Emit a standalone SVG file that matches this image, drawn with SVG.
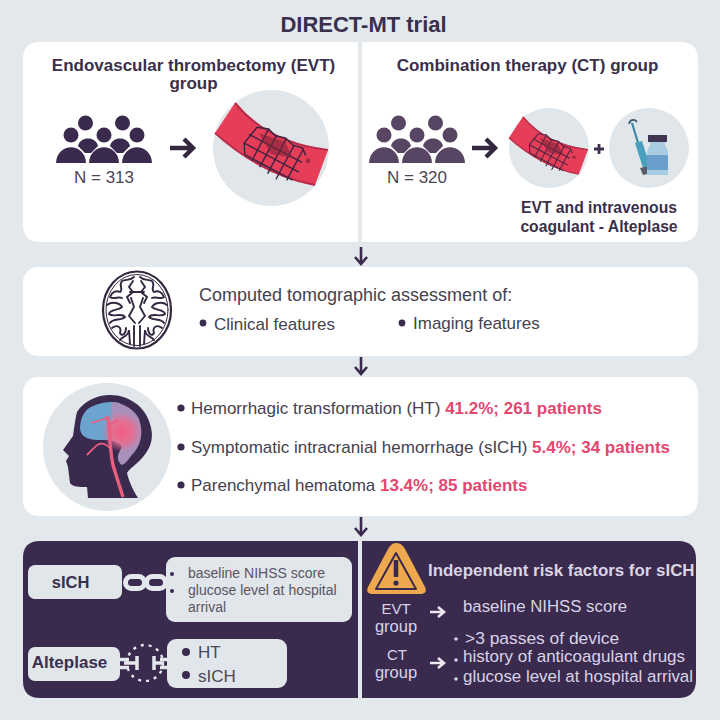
<svg xmlns="http://www.w3.org/2000/svg" width="720" height="720" viewBox="0 0 720 720">
<style>
text{font-family:"Liberation Sans",Arial,sans-serif}
.w{fill:#fff}.d{fill:#3a2a4e}.g{fill:#e0e6ea}
.t{font-weight:700;fill:#3a2f4c}
.b{fill:#46414f;font-size:17px}
.r{fill:#e2476f;font-weight:700}
.l{fill:#d9d4e6}
.s{fill:#5a5465;font-size:14px}
.a{fill:none;stroke:#3a2a4e;stroke-width:2.6}
.arr{fill:none;stroke:#33283f;stroke-width:4.4}
.arl{fill:none;stroke:#ece8f0;stroke-width:2.6}
</style>
<defs>
<g id="people">
<circle cx="-18.5" cy="-18" r="7.5"/><circle cx="18.5" cy="-18" r="7.5"/>
<circle cx="-33" cy="-6" r="7.5"/><circle cx="0" cy="-6" r="7.5"/><circle cx="33" cy="-6" r="7.5"/>
<path d="M-26 5C-24-5-8-5-6 5L-13 12H-19Z"/><path d="M6 5C8-5 24-5 26 5L19 12H13Z"/>
<path d="M-48 22C-47 1-19 1-18 22Z"/><path d="M-15 22C-14 1 14 1 15 22Z"/><path d="M18 22C19 1 47 1 48 22Z"/>
</g>
<g id="vessel">
<path d="M-38-49C-14-20 20-6 55-2L42 33C4 26-30 6-58-19Z" fill="#e63d58"/>
<path d="M-38-49C-14-20 20-6 55-2" fill="none" stroke="#b92c48" stroke-width="2"/>
<path d="M-58-19C-30 6 4 26 42 33" fill="none" stroke="#b92c48" stroke-width="2"/>
<g transform="translate(1 -1) rotate(28)" fill="none" stroke="#3d2440" stroke-width="1.400">
<path d="M-26-13L-15-17L-6-14L4-17L14-14L24-16L30-11M-30-3L30-3M-30 7L32 7M-24 17L30 17"/>
<path d="M-26-13L-30 7L-24 17M-15-17L-15 19M-5-15L-5 21M5-17L5 23M15-15L15 24M25-15L25 20"/>
</g>
<path d="M-14-19L12-10L20 6L-2 2Z" fill="#7d2438" opacity=".6"/>
<circle cx="35" cy="9" r="2.400" fill="#a32a40"/>
</g>
<radialGradient id="bleed"><stop offset="0" stop-color="#f05a80"/><stop offset=".55" stop-color="#ee6c8c" stop-opacity=".85"/><stop offset="1" stop-color="#ee6c8c" stop-opacity="0"/></radialGradient>
</defs>
<rect width="720" height="720" fill="#e2e8eb"/>
<text x="363.500" y="32" text-anchor="middle" font-size="22" class="t">DIRECT-MT trial</text>

<g id="evt-panel">
<path class="w" d="M40 42H358V242H40Q23 242 23 225V59Q23 42 40 42Z"/>
<text x="193.500" y="71" text-anchor="middle" font-size="17" class="t">Endovascular thrombectomy (EVT)</text>
<text x="193.500" y="89" text-anchor="middle" font-size="17" class="t">group</text>
<use href="#people" x="104" y="141" class="d"/>
<text x="104" y="183" text-anchor="middle" font-size="17" fill="#4c4656">N = 313</text>
<path d="M170 148H193M184 139L193 148L184 157" class="arr"/>
<circle cx="271" cy="148" r="58" class="g"/>
<use href="#vessel" x="273" y="152"/>
</g>

<g id="ct-panel">
<path class="w" d="M362 42H680Q698 42 698 60V224Q698 242 680 242H362Z"/>
<text x="527.500" y="71" text-anchor="middle" font-size="17" class="t">Combination therapy (CT) group</text>
<use href="#people" x="417" y="141" fill="#574563"/>
<text x="417" y="183" text-anchor="middle" font-size="17" fill="#4c4656">N = 320</text>
<path d="M472 148H495M486 139L495 148L486 157" class="arr"/>
<circle cx="549" cy="148" r="40" class="g"/>
<use href="#vessel" transform="translate(549.500 151) scale(.7)"/>
<path d="M594 149H604M599 144V154" stroke="#3f3050" stroke-width="2.800"/>
<circle cx="649" cy="148" r="40" class="g"/>
<g id="syringe">
<path d="M632 123L639 146" stroke="#3f88a4" stroke-width="2.200" fill="none"/>
<path d="M629 124C630 119 635 119 637 122" stroke="#3f5f78" stroke-width="1.800" fill="none"/>
<path d="M635 143L642 141L650 166L643 168Z" fill="#4aa0bc"/>
<path d="M640 168L654 165L656 172L643 175Z" fill="#5a5a68"/>
</g>
<g id="vial">
<rect x="648" y="135" width="19" height="7" fill="#3f3550"/>
<path d="M650 142H665V146C667 148 668 150 668 153V175H647V153C647 150 648 148 650 146Z" fill="#a9cde0"/>
<rect x="647" y="155" width="21" height="15" fill="#6a9fcb"/>
</g>
<text x="599" y="213" text-anchor="middle" font-size="15.700" class="t">EVT and intravenous</text>
<text x="599" y="232" text-anchor="middle" font-size="15.700" class="t">coagulant - Alteplase</text>
</g>

<g id="ct-assessment">
<rect x="23" y="267" width="675" height="89" rx="15" class="w"/>
<g id="brain-scan" fill="none" stroke="#33283f" stroke-width="1.900" stroke-linecap="round">
<ellipse cx="137" cy="310" rx="34" ry="38.500" stroke-width="2.200"/>
<ellipse cx="137" cy="310" rx="31" ry="35.500" stroke-width="1"/>
<path d="M134 277C130 281 126 279 122 281C118 286 124 288 120 292C116 290 112 292 110 297C114 300 118 296 122 298M140 277C144 281 148 279 152 281C156 286 150 288 154 292C158 290 162 292 164 297C160 300 156 296 152 298"/>
<path d="M133 281L129 287L133 292L127 297L130 303M141 281L145 287L141 292L147 297L144 303"/>
<path d="M130 292H144M131 298L134 307L129 316L135 323M143 298L140 307L145 316L139 323"/>
<path d="M107 305C112 301 120 303 122 307C118 311 110 309 109 314C113 318 122 312 125 317C121 321 113 318 110 323M167 305C162 301 154 303 152 307C156 311 164 309 165 314C161 318 152 312 149 317C153 321 161 318 164 323"/>
<path d="M112 328C117 324 122 327 120 333C122 337 126 334 126 328M162 328C157 324 152 327 154 333C152 337 148 334 148 328"/>
<path d="M120 340C123 335 128 338 129 330L130 344M154 340C151 335 146 338 145 330L144 344M134 326L134 346M140 326L140 346"/>
</g>
<text x="199" y="301" font-size="18" fill="#46414f">Computed tomographic assessment of:</text>
<circle cx="203" cy="323" r="3.400" class="d"/>
<text x="214" y="330" class="b">Clinical features</text>
<circle cx="402" cy="323" r="3.400" class="d"/>
<text x="413" y="329" class="b">Imaging features</text>
</g>

<g id="outcomes">
<rect x="23" y="377" width="675" height="139" rx="15" class="w"/>
<circle cx="107" cy="447" r="64" class="g"/>
<g id="head">
<path d="M88 498L87 487C80 487 72 487 70 483L68 467L66 461L69 456L63 450L73 436C74 430 75 420 77 412C84 401 97 395 110 395C130 395 146 408 150 424C154 436 152 446 143 457C136 465 130 468 127 473C129 482 134 492 138 498Z" class="d"/>
<path d="M80 427C81 415 86 409 93 406C102 402 112 401 120 403L122 465C118 461 117 455 123 447C116 440 110 440 100 440C90 440 80 438 80 427Z" fill="#6da3cf"/>
<path d="M112 402C124 403 135 410 139 419C144 434 141 446 131 456C128 460 125 464 122 465C117 461 116 456 122 447C118 440 114 438 110 438Z" fill="#a98fbb"/>
<circle cx="122" cy="432" r="20" fill="url(#bleed)"/>
<path d="M123 497L117 478L113 465C111 456 111 450 110 443C110 432 110 425 107 416" fill="none" stroke="#ea5f80" stroke-width="3.400"/>
<path d="M110 448C103 441 98 443 93 449L87 455M108 418L91 423M109 425L118 420" fill="none" stroke="#ea5f80" stroke-width="1.800"/>
</g>
<circle cx="181" cy="408" r="3.600" class="d"/>
<text x="191" y="414" class="b">Hemorrhagic transformation (HT) <tspan class="r">41.2%; 261 patients</tspan></text>
<circle cx="181" cy="447" r="3.600" class="d"/>
<text x="191" y="453" class="b">Symptomatic intracranial hemorrhage (sICH) <tspan class="r">5.4%; 34 patients</tspan></text>
<circle cx="181" cy="485" r="3.600" class="d"/>
<text x="191" y="491" class="b">Parenchymal hematoma <tspan class="r">13.4%; 85 patients</tspan></text>
</g>

<g id="connectors">
<path class="a" d="M361 247V263M355 257L361 264L367 257"/>
<path class="a" d="M361 357V373M355 367L361 374L367 367"/>
<path class="a" d="M361 517V534M355 528L361 535L367 528"/>
</g>

<g id="left-findings">
<path class="d" d="M40 541H358V698H40Q23 698 23 681V558Q23 541 40 541Z"/>
<rect x="28" y="565" width="94" height="34" rx="7" class="g"/>
<text x="70.500" y="588" text-anchor="middle" font-size="16.500" class="t">sICH</text>
<g id="chain" fill="none" stroke="#e4e8ec" stroke-width="5">
<rect x="125.500" y="576.500" width="19" height="12" rx="6"/>
<rect x="146.500" y="576.500" width="19" height="12" rx="6"/>
</g>
<rect x="166" y="557" width="186" height="65" rx="9" class="g"/>
<circle cx="172" cy="574" r="2" class="d"/><circle cx="172" cy="591" r="2" class="d"/>
<text x="188" y="578" class="s">baseline NIHSS score</text>
<text x="188" y="595" class="s">glucose level at hospital</text>
<text x="188" y="612" class="s">arrival</text>
<rect x="28" y="647" width="92" height="34" rx="7" class="g"/>
<text x="69.500" y="668" text-anchor="middle" font-size="17" class="t">Alteplase</text>
<rect x="167" y="639" width="120" height="49" rx="9" class="g"/>
<g id="broken-chain" fill="none" stroke="#e4e8ec">
<path d="M129 659.500H115C110 659.500 110 667.500 115 667.500H129" stroke-width="3.500"/>
<path d="M124 663H137M137 656V670" stroke-width="3.500"/>
<path d="M160 659.500H179C185 659.500 185 667.500 179 667.500H160" stroke-width="3.500"/>
<path d="M154 656V670M154 663H164" stroke-width="3.500"/>
<circle cx="145" cy="663" r="18" stroke-width="2.400" stroke-dasharray="3 5"/>
</g>
<circle cx="186" cy="652" r="4" class="d"/><circle cx="186" cy="675" r="4" class="d"/>
<text x="198" y="658" font-size="17" fill="#4d4658">HT</text>
<text x="198" y="682" font-size="17" fill="#4d4658">sICH</text>
</g>

<g id="right-findings">
<path class="d" d="M362 541H678Q696 541 696 559V680Q696 698 678 698H362Z"/>
<path id="warning" d="M396 543C392 543 390 546 388 549L368 587C366 592 368 594 373 594H420C425 594 427 592 425 587L405 549C403 546 401 543 396 543Z" fill="#eea94e"/>
<path d="M396 553L376 589H416Z" fill="none" stroke="#3a2a4e" stroke-width="2" stroke-linejoin="round"/>
<path d="M396 560V577" stroke="#3a2a4e" stroke-width="4.500"/>
<circle cx="396" cy="583" r="2.600" class="d"/>
<text x="428" y="576" font-size="16.900" font-weight="700" class="l">Independent risk factors for sICH</text>
<text x="396" y="614" text-anchor="middle" font-size="15" class="l">EVT</text>
<text x="396" y="632" text-anchor="middle" font-size="16.500" class="l">group</text>
<text x="397" y="660" text-anchor="middle" font-size="15" class="l">CT</text>
<text x="396" y="678" text-anchor="middle" font-size="16.500" class="l">group</text>
<path d="M430 612H443M438 607L444 612L438 617" class="arl"/>
<path d="M430 663H443M438 658L444 663L438 668" class="arl"/>
<text x="463" y="612" font-size="16.800" class="l">baseline NIHSS score</text>
<circle cx="456" cy="639" r="1.800" class="l"/><circle cx="456" cy="660" r="1.800" class="l"/><circle cx="456" cy="679" r="1.800" class="l"/>
<text x="465" y="644" font-size="17.400" class="l">&gt;3 passes of device</text>
<text x="463" y="662" font-size="17" class="l">history of anticoagulant drugs</text>
<text x="463" y="682" font-size="16.900" class="l">glucose level at hospital arrival</text>
</g>
</svg>
